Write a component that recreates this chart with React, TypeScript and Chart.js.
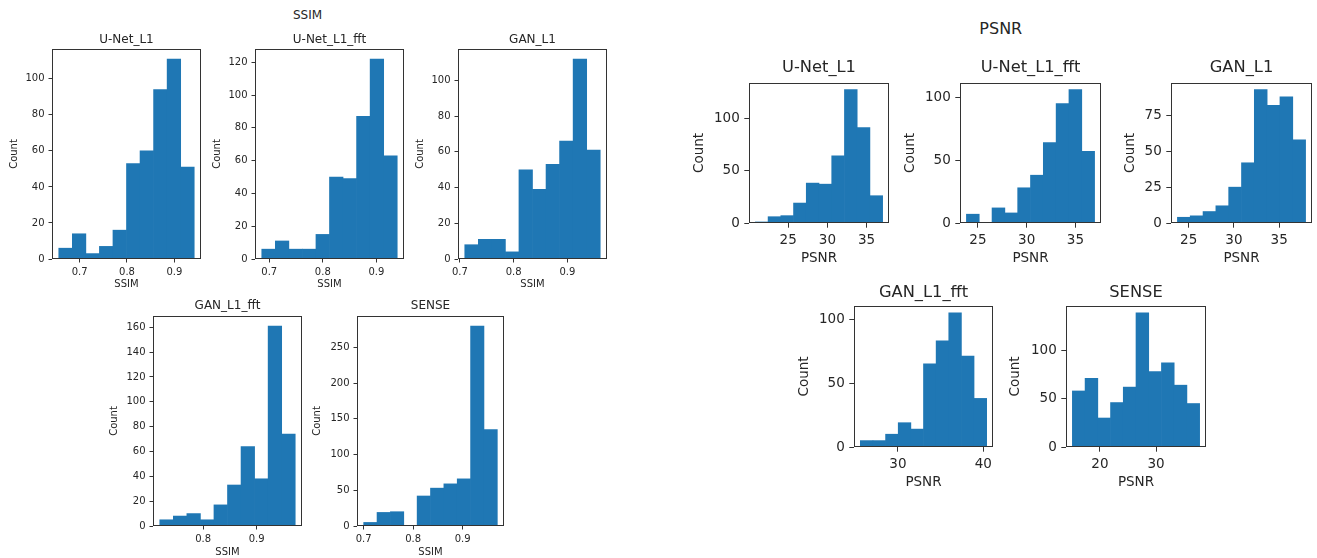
import React, { useEffect, useRef } from "react";
import { Chart, registerables } from "chart.js";

Chart.register(...registerables);
Chart.defaults.font.family = "'DejaVu Sans', sans-serif";

const BAR_COLOR = "#1f77b4";
const TEXT_COLOR = "#262626";
const AXIS_COLOR = "#333333";

// ---------------- SSIM data ----------------
const ssimTitles = ["U-Net_L1", "U-Net_L1_fft", "GAN_L1", "GAN_L1_fft", "SENSE"];
const ssimUnetL1 = [6, 14, 3, 7, 16, 53, 60, 94, 111, 51];
const ssimUnetL1fft = [6, 11, 6, 6, 15, 50, 49, 87, 122, 63];
const ssimGanL1 = [8, 11, 11, 4, 50, 39, 53, 66, 112, 61];
const ssimGanL1fft = [5, 8, 10, 5, 17, 33, 64, 38, 161, 74];
const ssimSense = [5, 19, 20, 0, 42, 53, 59, 66, 280, 135];
const ssimBinRanges = [
  [0.656, 0.942],
  [0.686, 0.939],
  [0.709, 0.961],
  [0.719, 0.972],
  [0.7, 0.97],
];
const ssimXTicks = [
  [0.7, 0.8, 0.9],
  [0.7, 0.8, 0.9],
  [0.7, 0.8, 0.9],
  [0.8, 0.9],
  [0.7, 0.8, 0.9],
];
const ssimYTicks = [
  [0, 20, 40, 60, 80, 100],
  [0, 20, 40, 60, 80, 100, 120],
  [0, 20, 40, 60, 80, 100],
  [0, 20, 40, 60, 80, 100, 120, 140, 160],
  [0, 50, 100, 150, 200, 250],
];

// ---------------- PSNR data ----------------
const psnrTitles = ["U-Net_L1", "U-Net_L1_fft", "GAN_L1", "GAN_L1_fft", "SENSE"];
const psnrUnetL1 = [1, 6, 7, 19, 38, 37, 64, 127, 91, 26];
const psnrUnetL1fft = [7, 0, 12, 8, 28, 38, 64, 95, 106, 57];
const psnrGanL1 = [4, 5, 8, 12, 25, 42, 93, 82, 88, 58];
const psnrGanL1fft = [5, 5, 10, 19, 14, 65, 83, 105, 71, 38];
const psnrSense = [58, 71, 30, 46, 62, 139, 78, 87, 64, 45];
const psnrBinRanges = [
  [20.81, 37.05],
  [23.82, 36.97],
  [23.76, 37.92],
  [25.6, 40.39],
  [15.09, 37.75],
];
const psnrXTicks = [
  [25, 30, 35],
  [25, 30, 35],
  [25, 30, 35],
  [30, 40],
  [20, 30],
];
const psnrYTicks = [
  [0, 50, 100],
  [0, 50, 100],
  [0, 25, 50, 75],
  [0, 50, 100],
  [0, 50, 100],
];

const ssimCounts = [ssimUnetL1, ssimUnetL1fft, ssimGanL1, ssimGanL1fft, ssimSense];
const psnrCounts = [psnrUnetL1, psnrUnetL1fft, psnrGanL1, psnrGanL1fft, psnrSense];

// ---------------- layout (positions / styles) ----------------
type Style = { tick: number; label: number; title: number; tickLen: number; pad: number; padTop: number };
const ssimStyle: Style = { tick: 10, label: 10, title: 12, tickLen: 3.5, pad: 4, padTop: 30 };
const psnrStyle: Style = { tick: 13.5, label: 13.5, title: 16.3, tickLen: 4.7, pad: 4.5, padTop: 34 };

// axes box [left, top, right, bottom], y-label centre x, title centre y, x-label centre y
const ssimLayout = [
  { box: [52, 49, 201, 259], countX: 14, titleY: 40, xlabelY: 284 },
  { box: [255, 49, 404, 259], countX: 217, titleY: 40, xlabelY: 284 },
  { box: [458, 49, 607, 259], countX: 420, titleY: 40, xlabelY: 284 },
  { box: [153, 316, 302, 526], countX: 114, titleY: 306, xlabelY: 551.5 },
  { box: [357, 316, 504, 526], countX: 317, titleY: 306, xlabelY: 551.5 },
];
const psnrLayout = [
  { box: [749, 83, 889, 223], countX: 699, titleY: 68, xlabelY: 259 },
  { box: [960, 83, 1101, 223], countX: 910, titleY: 68, xlabelY: 259 },
  { box: [1171, 83, 1312, 223], countX: 1130, titleY: 68, xlabelY: 259 },
  { box: [854, 306, 993, 447], countX: 804, titleY: 293, xlabelY: 483 },
  { box: [1066, 306, 1206, 447], countX: 1015, titleY: 293, xlabelY: 483 },
];

const axTitlePlugin = {
  id: "axTitle",
  afterDraw(chart: any, _args: any, opts: any) {
    const { ctx, chartArea: a } = chart;
    ctx.save();
    ctx.strokeStyle = AXIS_COLOR;
    ctx.lineWidth = 1;
    const l = Math.round(a.left);
    const t = Math.round(a.top);
    const r = Math.round(a.right);
    const b = Math.round(a.bottom);
    ctx.strokeRect(l + 0.5, t + 0.5, r - l - 1, b - t - 1);
    ctx.fillStyle = TEXT_COLOR;
    ctx.font = `${opts.size}px 'DejaVu Sans', sans-serif`;
    ctx.textAlign = "center";
    ctx.textBaseline = "middle";
    ctx.fillText(opts.text, (a.left + a.right) / 2, a.top - opts.gap);
    ctx.restore();
  },
};

type Spec = {
  title: string;
  counts: number[];
  range: number[];
  xTicks: number[];
  yTicks: number[];
  xLabel: string;
  lay: { box: number[]; countX: number; titleY: number; xlabelY: number };
  st: Style;
};

function Hist({ spec }: { spec: Spec }) {
  const ref = useRef<HTMLCanvasElement>(null);
  const { st, lay } = spec;
  const lineH = st.label * 1.2;
  const [L, T, R, B] = lay.box;
  const left = Math.round(lay.countX - lineH / 2);
  const top = T - st.padTop;
  const rightPad = 20;
  const width = R + rightPad - left;
  const yW = L - left;
  const xH = Math.round(lay.xlabelY + lineH / 2 - B);
  const height = B + xH - top;

  useEffect(() => {
    const [s, e] = spec.range;
    const n = spec.counts.length;
    const w = (e - s) / n;
    const data = spec.counts.map((c, i) => ({ x: s + (i + 0.5) * w, y: c }));
    const m = (e - s) * 0.05;
    const ymax = Math.max(...spec.counts) * 1.05;
    const tickFont = { size: st.tick };
    const chart = new Chart(ref.current as HTMLCanvasElement, {
      type: "bar",
      data: {
        datasets: [
          {
            data: data as any,
            backgroundColor: BAR_COLOR,
            borderWidth: 0,
            barPercentage: 1,
            categoryPercentage: 1,
          },
        ],
      },
      options: {
        responsive: false,
        animation: false,
        devicePixelRatio: 1,
        layout: { padding: { top: st.padTop, right: rightPad, left: 0, bottom: 0 } },
        plugins: {
          legend: { display: false },
          tooltip: { enabled: false },
          axTitle: { text: spec.title, size: st.title, gap: T - lay.titleY },
        } as any,
        scales: {
          x: {
            type: "linear",
            min: s - m,
            max: e + m,
            offset: false,
            afterBuildTicks: (sc: any) => {
              sc.ticks = spec.xTicks.map((v) => ({ value: v }));
            },
            afterFit: (sc: any) => {
              sc.height = xH;
            },
            ticks: {
              autoSkip: false,
              maxRotation: 0,
              padding: st.pad,
              color: TEXT_COLOR,
              font: tickFont,
              callback: (v: any) => String(v),
            },
            grid: {
              offset: false,
              drawOnChartArea: false,
              drawTicks: true,
              tickLength: st.tickLen,
              color: AXIS_COLOR,
            },
            border: { display: false },
            title: {
              display: true,
              text: spec.xLabel,
              padding: 0,
              color: TEXT_COLOR,
              font: { size: st.label },
            },
          },
          y: {
            type: "linear",
            min: 0,
            max: ymax,
            afterBuildTicks: (sc: any) => {
              sc.ticks = spec.yTicks.map((v) => ({ value: v }));
            },
            afterFit: (sc: any) => {
              sc.width = yW;
            },
            ticks: {
              autoSkip: false,
              padding: st.pad,
              color: TEXT_COLOR,
              font: tickFont,
              callback: (v: any) => String(v),
            },
            grid: {
              drawOnChartArea: false,
              drawTicks: true,
              tickLength: st.tickLen,
              color: AXIS_COLOR,
            },
            border: { display: false },
            title: {
              display: true,
              text: "Count",
              padding: 0,
              color: TEXT_COLOR,
              font: { size: st.label },
            },
          },
        },
      } as any,
      plugins: [axTitlePlugin as any],
    });
    return () => chart.destroy();
  }, []);

  return (
    <canvas
      ref={ref}
      width={width}
      height={height}
      style={{ position: "absolute", left, top, width, height }}
    />
  );
}

export default function App() {
  const specs: Spec[] = [];
  ssimTitles.forEach((t, i) =>
    specs.push({
      title: t,
      counts: ssimCounts[i],
      range: ssimBinRanges[i],
      xTicks: ssimXTicks[i],
      yTicks: ssimYTicks[i],
      xLabel: "SSIM",
      lay: ssimLayout[i],
      st: ssimStyle,
    })
  );
  psnrTitles.forEach((t, i) =>
    specs.push({
      title: t,
      counts: psnrCounts[i],
      range: psnrBinRanges[i],
      xTicks: psnrXTicks[i],
      yTicks: psnrYTicks[i],
      xLabel: "PSNR",
      lay: psnrLayout[i],
      st: psnrStyle,
    })
  );
  const sup: React.CSSProperties = {
    position: "absolute",
    width: 200,
    textAlign: "center",
    color: TEXT_COLOR,
    fontFamily: "'DejaVu Sans', sans-serif",
    whiteSpace: "nowrap",
  };
  return (
    <div
      style={{
        position: "fixed",
        left: 0,
        top: 0,
        width: 1317,
        height: 558,
        background: "#ffffff",
        overflow: "hidden",
      }}
    >
      <div style={{ ...sup, left: 207.5, top: 15.3 - 8, fontSize: 12, lineHeight: "16px" }}>SSIM</div>
      <div style={{ ...sup, left: 900.8, top: 29.2 - 10, fontSize: 16, lineHeight: "20px" }}>PSNR</div>
      {specs.map((s, i) => (
        <Hist key={i} spec={s} />
      ))}
    </div>
  );
}
